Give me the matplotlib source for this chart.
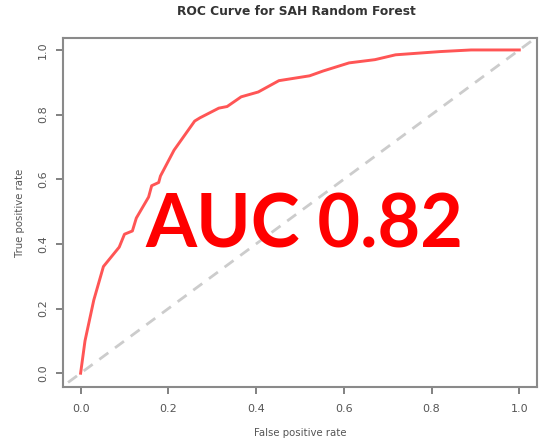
"""
ROC curve for the SAH random forest, R-style base plot look.
Writes out.png
"""

import matplotlib.pyplot as plt

# ROC points
fpr = [0.0, 0.01, 0.03, 0.052, 0.088, 0.10, 0.118, 0.127, 0.155, 0.162, 0.178,
       0.182, 0.213, 0.26, 0.272, 0.315, 0.334, 0.366, 0.405, 0.452, 0.522,
       0.553, 0.612, 0.671, 0.718, 0.82, 0.89, 1.0]
tpr = [0.0, 0.10, 0.226, 0.33, 0.39, 0.43, 0.44, 0.48, 0.545, 0.58, 0.59,
       0.61, 0.69, 0.78, 0.79, 0.82, 0.825, 0.855, 0.87, 0.905, 0.92,
       0.935, 0.96, 0.97, 0.985, 0.995, 1.0, 1.0]

ticks = [0.0, 0.2, 0.4, 0.6, 0.8, 1.0]
tick_labels = ['0.0', '0.2', '0.4', '0.6', '0.8', '1.0']
auc_text = 'AUC 0.82'

grey = '#777777'

fig = plt.figure(figsize=(5.39, 4.47), dpi=100)
ax = fig.add_axes([0.117, 0.134, 0.879, 0.781])

# chance line across the whole box
ax.plot([-0.1, 1.1], [-0.1, 1.1], color='#cccccc', linestyle=(0, (4, 3)), linewidth=2)
ax.plot(fpr, tpr, color='#ff5555', linewidth=2.1)

ax.set_xlim(-0.04, 1.04)
ax.set_ylim(-0.043, 1.037)

ax.set_xticks(ticks)
ax.set_xticklabels(tick_labels)
ax.set_yticks(ticks)
ax.set_yticklabels(tick_labels, rotation=90, va='center')
ax.tick_params(colors=grey, labelcolor='#555555', labelsize=8, width=1.3, length=5)
ax.tick_params(axis='x', pad=7)
ax.tick_params(axis='y', pad=6)

for s in ax.spines.values():
    s.set_color('#8a8a8a')
    s.set_linewidth(1.5)

ax.set_xlabel('False positive rate', fontsize=7.3, color='#555555', labelpad=10)
ax.set_ylabel('True positive rate', fontsize=7.3, color='#555555', labelpad=9)
fig.text(0.55, 0.975, 'ROC Curve for SAH Random Forest', ha='center', va='center',
         fontsize=8.8, fontweight='bold', color='#333333')

# the big AUC label
ax.text(0.51, 0.455, auc_text, ha='center', va='center', fontsize=53,
        fontweight='bold', color='#ff0000', family='Lato')

plt.savefig('out.png', dpi=100, facecolor='white')
plt.close()
